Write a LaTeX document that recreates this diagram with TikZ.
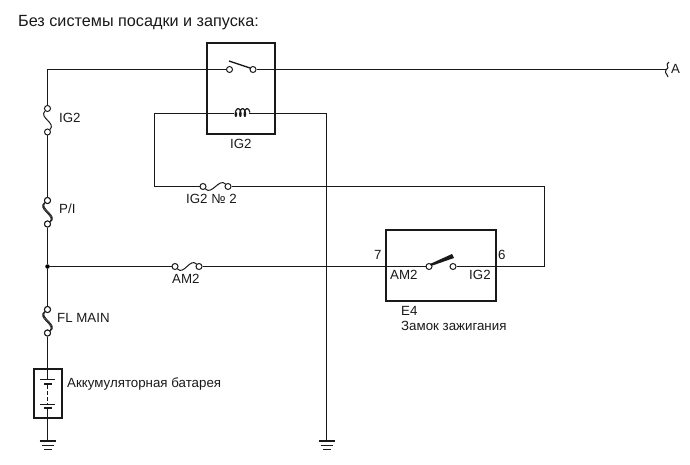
\documentclass[tikz,border=0pt]{standalone}
\usepackage{fontspec}
\setmainfont{Liberation Sans}
\tikzset{
    wire/.style={line width=1pt,black!90},
    boxline/.style={line width=2pt,black!90},
    term/.style={circle,draw=black!90,fill=white,line width=1pt,inner sep=0pt,minimum size=6pt},
    junct/.style={circle,fill=black,inner sep=0pt,minimum size=4.5pt},
    lbl/.style={anchor=base west,inner sep=0pt,font=\fontsize{13.3}{15}\selectfont,text=black!90},
}
\begin{document}
\begin{tikzpicture}[x=1pt,y=-1pt]
    \useasboundingbox (0,0) rectangle (690,465);
    \node[lbl,font=\fontsize{16.2}{18}\selectfont] (title) at (18,26.5) {Без системы посадки и запуска:};

    % main line and fuses
    \coordinate (top) at (47.5,69.5);
    \coordinate (batin) at (47.5,379.5);
    \coordinate (batout) at (47.5,408);
    \coordinate (gnda) at (47.5,441);
    \coordinate (gndb) at (326.5,441);
    \coordinate (brk) at (665.5,69.5);
    \node[term] (igt) at (47.5,108.5) {};
    \node[term] (igb) at (47.5,132) {};
    \node[term] (pit) at (47.5,200.5) {};
    \node[term] (pib) at (47.5,224) {};
    \node[junct] (mid) at (47.5,266.5) {};
    \node[term] (flt) at (47.5,309.5) {};
    \node[term] (flb) at (47.5,333) {};
    \draw[wire] (top) -- (igt);
    \draw[wire] (igb) -- (pit);
    \draw[wire] (pib) -- (mid);
    \draw[wire] (mid) -- (flt);
    \draw[wire] (flb) -- (batin);
    \draw[wire] (batout) -- (gnda);

    \draw[wire] (igt) .. controls +(-9,9) and +(9,-9) .. (igb);
    \foreach \d in {-1.5,0,1.5} {
        \draw[wire,line width=0.7pt] ([xshift=\d pt]pit) .. controls +(-10,8) and +(10,-8) .. ([xshift=\d pt]pib);
        \draw[wire,line width=0.7pt] ([xshift=\d pt]flt) .. controls +(-10,8) and +(10,-8) .. ([xshift=\d pt]flb);
    }
    \node[term] at (pit) {};
    \node[term] at (pib) {};
    \node[term] at (flt) {};
    \node[term] at (flb) {};

    \node[lbl] (iglbl) at (59,122.5) {IG2};
    \node[lbl] (pilbl) at (59,213.5) {P/I};
    \node[lbl] (fllbl) at (57,322.5) {FL MAIN};

    % battery
    \draw[boxline] (34,369) rectangle (62,418);
    \draw[wire] (40,379.5) -- (55,379.5);
    \draw[line width=2pt,black!90] (44,384) -- (52,384);
    \draw[wire,dash pattern=on 3.5pt off 2.5pt] (47.5,385) -- (47.5,404);
    \draw[wire] (40,404.5) -- (55,404.5);
    \draw[line width=2pt,black!90] (44,408) -- (52,408);
    \node[lbl] (batlbl) at (67,387.5) {Аккумуляторная батарея};

    % grounds
    \foreach \g in {gnda,gndb} {
        \draw[line width=2pt,black!90] ([xshift=-8pt]\g) -- ([xshift=8pt]\g);
        \draw[wire] ([xshift=-6pt,yshift=-4.5pt]\g) -- ([xshift=6pt,yshift=-4.5pt]\g);
        \draw[wire] ([xshift=-4pt,yshift=-8.5pt]\g) -- ([xshift=4pt,yshift=-8.5pt]\g);
    }

    % relay
    \draw[boxline] (207,43) rectangle (275,134);
    \node[term] (rsa) at (229.5,69.5) {};
    \node[term] (rsb) at (253,69.5) {};
    \draw[wire] (top) -- (rsa);
    \draw[wire] (rsb) -- (brk);
    \draw[line width=1.4pt,black!90] (229,61) -- (250,68);
    \coordinate (coilL) at (234,113.5);
    \coordinate (coilR) at (249,113.5);
    \draw[line width=1.2pt,black!90] plot[domain=-90:990,samples=90,smooth] ({241.5+0.0125*(\x-450)-1.6*sin(\x)},{112.5+3.8*cos(\x)});
    \node[lbl] (rellbl) at (230,148.5) {IG2};

    % loop from coil to E4
    \coordinate (la) at (154.5,113.5);
    \coordinate (lb) at (154.5,186.5);
    \coordinate (ra) at (544.5,186.5);
    \coordinate (rb) at (544.5,266.5);
    \coordinate (gndtop) at (326.5,113.5);
    \node[term] (ift) at (203,186.5) {};
    \node[term] (ifb) at (228,186.5) {};
    \draw[wire] (coilL) -- (la) -- (lb) -- (ift);
    \draw[wire] (ifb) -- (ra) -- (rb);
    \draw[wire] (ift) .. controls +(9,9) and +(-9,-9) .. (ifb);
    \draw[wire] (coilR) -- (gndtop) -- (gndb);
    \node[lbl] (iflbl) at (186,203.5) {IG2 № 2};

    % AM2 fuse
    \node[term] (amt) at (175,266.5) {};
    \node[term] (amb) at (199,266.5) {};
    \draw[wire] (mid) -- (amt);
    \draw[wire] (amt) .. controls +(9,9) and +(-9,-9) .. (amb);
    \node[lbl] (amlbl) at (172,283.5) {AM2};

    % ignition switch
    \draw[boxline] (386,230) rectangle (496,301);
    \node[term] (swa) at (429,266.5) {};
    \node[term] (swb) at (453,266.5) {};
    \draw[wire] (amb) -- (swa);
    \draw[wire] (swb) -- (rb);
    \fill[black!90] (430,264) -- (452,254) -- (454,258) -- (431,266) -- cycle;
    \node[lbl] (pseven) at (374,259.5) {7};
    \node[lbl] (psix) at (498,259.5) {6};
    \node[lbl] (swam) at (390,279.5) {AM2};
    \node[lbl] (swig) at (469,279.5) {IG2};
    \node[lbl] (elbl) at (401,315.5) {E4};
    \node[lbl] (zlbl) at (401,330.5) {Замок зажигания};

    % break to A
    \draw[wire] (669,62) .. controls (664,65) and (671,67) .. (666,70) .. controls (664,73) and (668,75) .. (668,77);
    \node[lbl] (albl) at (671,73.5) {A};
\end{tikzpicture}
\end{document}
